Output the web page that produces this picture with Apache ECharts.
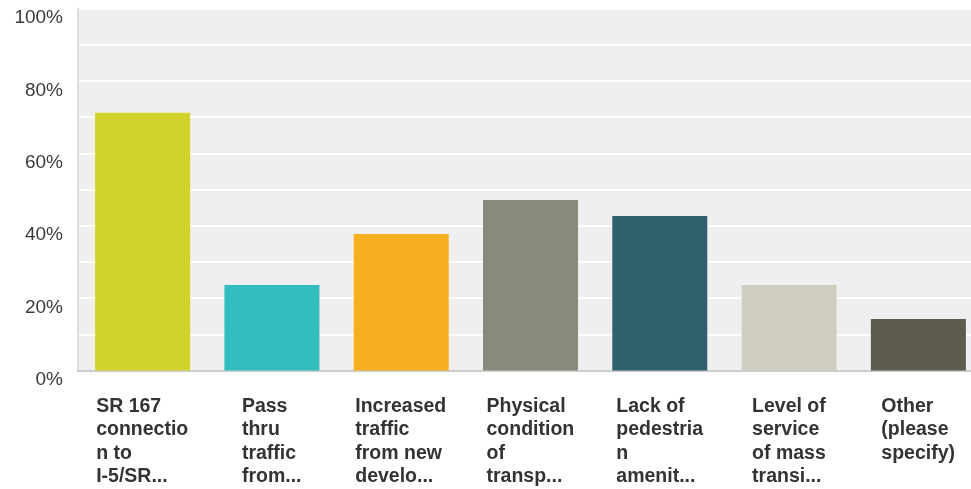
<!DOCTYPE html>
<html>
<head>
<meta charset="utf-8">
<script src="https://cdn.jsdelivr.net/npm/echarts@6/dist/echarts.min.js"></script>
<style>
  html, body { margin: 0; padding: 0; background: #ffffff; overflow: hidden; }
  #wrap { width: 971px; height: 489px; overflow: hidden; }
  /* the plot runs past the right edge of the view */
  #chart { width: 983px; height: 489px; }
</style>
</head>
<body>
<div id="wrap"><div id="chart"></div></div>
<script>
// Survey answer choices, as wrapped/truncated on the category axis
const categoryLines = [
  ['SR 167', 'connectio', 'n to', 'I-5/SR...'],
  ['Pass', 'thru', 'traffic', 'from...'],
  ['Increased', 'traffic', 'from new', 'develo...'],
  ['Physical', 'condition', 'of', 'transp...'],
  ['Lack of', 'pedestria', 'n', 'amenit...'],
  ['Level of', 'service', 'of mass', 'transi...'],
  ['Other', '(please', 'specify)']
];
const categories = categoryLines.map(l => l.join(' '));

// Share of respondents (%)
const responsePct = [71.2, 23.6, 37.7, 47.1, 42.7, 23.6, 14.2];

const barColors = ['#d0d42a', '#33bdbf', '#f7af1f', '#8a8a7a', '#2f606e', '#cfcdbe', '#5c5a4b'];

const yTicks = [0, 20, 40, 60, 80, 100];

const FONT = "'Liberation Sans', Arial, Helvetica, sans-serif";
const LABEL_SIZE = 19.5;

// Each label block is centred under its bar, lines left-aligned inside it
const ctx = document.createElement('canvas').getContext('2d');
ctx.font = 'bold ' + LABEL_SIZE + 'px ' + FONT;
const rich = {};
categoryLines.forEach((lines, i) => {
  const w = Math.ceil(Math.max(...lines.map(s => ctx.measureText(s).width)));
  rich['c' + i] = {
    width: w,
    align: 'left',
    fontFamily: FONT,
    fontSize: LABEL_SIZE,
    fontWeight: 'bold',
    color: '#333333',
    lineHeight: 23.5
  };
});

const chart = echarts.init(document.getElementById('chart'), null, { renderer: 'canvas' });

chart.setOption({
  animation: false,
  backgroundColor: '#ffffff',
  grid: {
    left: 78,
    right: 0,
    top: 8.5,
    bottom: 118.5,
    show: true,
    backgroundColor: '#efefef',
    borderWidth: 0
  },
  xAxis: {
    type: 'category',
    data: categories,
    axisTick: { show: false },
    axisLine: { show: true, lineStyle: { color: '#cccccc', width: 2 } },
    axisLabel: {
      interval: 0,
      margin: 24,
      align: 'center',
      verticalAlign: 'top',
      formatter: (value, idx) => categoryLines[idx].map(s => '{c' + idx + '|' + s + '}').join('\n'),
      rich: rich
    }
  },
  yAxis: {
    type: 'value',
    min: 0,
    max: 100,
    interval: 10,
    axisLine: { show: true, lineStyle: { color: '#dddddd', width: 2 } },
    axisTick: { show: false },
    splitLine: { show: true, lineStyle: { color: '#ffffff', width: 2 } },
    axisLabel: {
      margin: 15,
      verticalAlign: 'top',
      lineHeight: 19,
      fontFamily: FONT,
      fontSize: 19,
      color: '#3a3a3a',
      formatter: v => (yTicks.indexOf(v) >= 0 ? v + '%' : '')
    }
  },
  series: [{
    type: 'bar',
    barWidth: 95,
    data: responsePct.map((v, i) => ({ value: v, itemStyle: { color: barColors[i] } }))
  }]
});
</script>
</body>
</html>
